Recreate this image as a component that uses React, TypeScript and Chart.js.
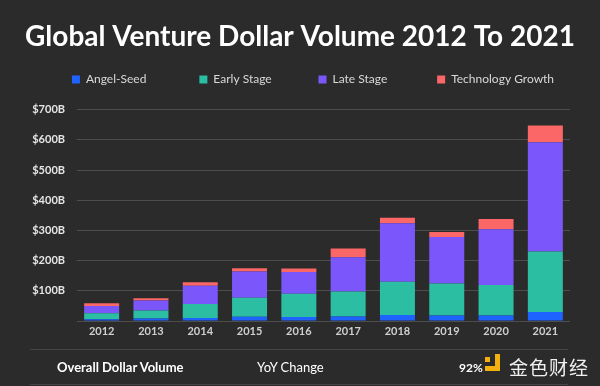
import React, { useEffect, useRef } from "react";
import { Chart, registerables } from "chart.js";

Chart.register(...registerables);

const years = ["2012", "2013", "2014", "2015", "2016", "2017", "2018", "2019", "2020", "2021"];
const angelSeed = [6, 8.6, 10, 14, 13, 15, 20, 18, 18, 30];
const earlyStage = [20, 26, 46, 63, 77, 83, 110, 106, 101, 200];
const lateStage = [24, 33, 61, 87, 72, 113, 194, 154, 185, 362];
const techGrowth = [9, 8, 11, 11, 12, 29, 18, 17, 34, 55];
const yTicks = [0, 100, 200, 300, 400, 500, 600, 700];
const legendTrail = [14, 12, 13, 0];

const BG = "#2b2b2b";
const FONT = "Lato, 'Open Sans', sans-serif";

export default function App() {
  const ref = useRef<HTMLCanvasElement | null>(null);

  useEffect(() => {
    document.body.style.margin = "0";
    document.body.style.background = BG;
    const legendGap = {
      id: "legendGap",
      afterInit(chart: any) {
        const lg = chart.legend;
        if (!lg) return;
        const origFit = lg.fit;
        lg.fit = function () {
          origFit.call(this);
          this.height += 14;
        };
        const origDraw = lg.draw;
        lg.draw = function () {
          const ctx = this.ctx;
          ctx.save();
          ctx.translate(13, 0);
          origDraw.call(this);
          ctx.restore();
        };
      },
    };
    const chart = new Chart(ref.current as HTMLCanvasElement, {
      type: "bar",
      data: {
        labels: years,
        datasets: [
          { label: "Angel-Seed", data: angelSeed, backgroundColor: "#1f63ff" },
          { label: "Early Stage", data: earlyStage, backgroundColor: "#2bbea3" },
          { label: "Late Stage", data: lateStage, backgroundColor: "#7b57fb" },
          { label: "Technology Growth", data: techGrowth, backgroundColor: "#fb6767" },
        ],
      },
      options: {
        animation: false,
        responsive: false,
        maintainAspectRatio: false,
        layout: { padding: { left: 0, right: 0, top: 0, bottom: 45 } },
        datasets: { bar: { categoryPercentage: 1, barPercentage: 0.71 } },
        plugins: {
          title: {
            display: true,
            text: "Global Venture Dollar Volume 2012 To 2021",
            color: "#ffffff",
            font: { family: FONT, size: 28, weight: "bold" },
            padding: { top: 20, bottom: 10 },
          },
          legend: {
            display: true,
            labels: {
              color: "#d9d9d9",
              font: { family: FONT, size: 12 },
              boxWidth: 8,
              boxHeight: 8,
              padding: 10,
              generateLabels(chart: any) {
                return chart.data.datasets.map((d: any, i: number) => ({
                  text: d.label + " ".repeat(legendTrail[i]),
                  fillStyle: d.backgroundColor,
                  strokeStyle: d.backgroundColor,
                  lineWidth: 0,
                  fontColor: "#d9d9d9",
                  hidden: false,
                  datasetIndex: i,
                }));
              },
            },
          },
          tooltip: { enabled: false },
        },
        scales: {
          x: {
            stacked: true,
            grid: { display: false, drawTicks: false },
            border: { display: false },
            ticks: { color: "#cfcfcf", font: { family: FONT, size: 11, weight: "bold" }, padding: 4 },
            afterFit(s: any) {
              s.height = 20;
            },
          },
          y: {
            stacked: true,
            min: 0,
            max: 700,
            afterBuildTicks(s: any) {
              s.ticks = yTicks.map((v) => ({ value: v }));
            },
            grid: { color: "#4d4d4d", lineWidth: 1, drawTicks: false },
            border: { display: false },
            ticks: {
              color: "#e6e6e6",
              font: { family: FONT, size: 11, weight: "bold" },
              padding: 12,
              callback: (v: any) => (v === 0 ? "" : "$" + v + "B"),
            },
            afterFit(s: any) {
              s.width = 77;
            },
          },
          yR: {
            type: "linear",
            position: "right",
            display: true,
            grid: { display: false, drawTicks: false },
            border: { display: false },
            ticks: { display: false },
            afterFit(s: any) {
              s.width = 30;
            },
          },
        },
      },
      plugins: [legendGap],
    });
    return () => chart.destroy();
  }, []);

  const txt: React.CSSProperties = { position: "absolute", color: "#ffffff", fontFamily: FONT, fontSize: 13 };
  return (
    <div style={{ position: "relative", width: 600, height: 386, background: BG, overflow: "hidden" }}>
      <canvas ref={ref} width={600} height={386} style={{ display: "block" }} />
      <div style={{ position: "absolute", left: 30, top: 349, width: 538, height: 1, background: "#444" }} />
      <div style={{ position: "absolute", left: 30, top: 384, width: 538, height: 1, background: "#444" }} />
      <div style={{ ...txt, left: 57, top: 359, fontWeight: "bold" }}>Overall Dollar Volume</div>
      <div style={{ ...txt, left: 257, top: 359 }}>YoY Change</div>
      <div style={{ ...txt, left: 459, top: 360, fontSize: 12, fontWeight: "bold" }}>92%</div>
      <div style={{ position: "absolute", left: 485, top: 357, width: 5, height: 5, background: "#f2b10c" }} />
      <div style={{ position: "absolute", left: 495, top: 354, width: 5, height: 17, background: "#f2b10c" }} />
      <div style={{ position: "absolute", left: 485, top: 366, width: 15, height: 5, background: "#f2b10c" }} />
      <div
        style={{
          position: "absolute",
          left: 509,
          top: 353,
          color: "#f0f0f0",
          fontFamily: "'Noto Sans CJK SC', sans-serif",
          fontSize: 19,
          letterSpacing: 1,
        }}
      >
        金色财经
      </div>
    </div>
  );
}
